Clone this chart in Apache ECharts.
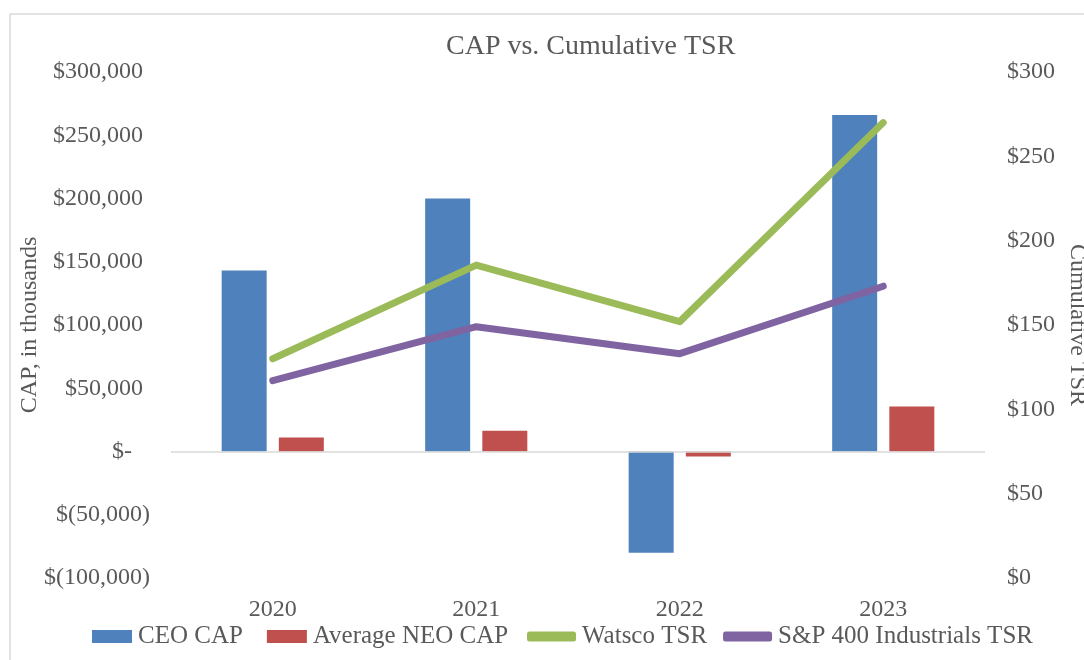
<!DOCTYPE html>
<html>
<head>
<meta charset="utf-8">
<script src="https://cdn.jsdelivr.net/npm/echarts@6/dist/echarts.min.js"></script>
<style>
  html, body { margin: 0; padding: 0; background: #fff; }
  #chart { width: 1084px; height: 660px; }
</style>
</head>
<body>
<div id="chart"></div>
<script>
  // data
  var years = ['2020', '2021', '2022', '2023'];
  var ceoCap = [143000, 200000, -80000, 266000];      // $ thousands
  var neoCap = [11000, 16500, -4000, 35500];          // $ thousands
  var watscoTsr = [130, 185.5, 152, 270];
  var industrialsTsr = [117, 149, 133, 173];

  var txt = '#595959';
  var font = 'Liberation Serif, Times New Roman, serif';

  // accounting style: $1,000 / $(1,000) / $-
  function capLabel(v) {
    if (v === 0) return '{z|$-}';
    var s = Math.abs(v).toLocaleString('en-US');
    return v < 0 ? '{n|$(' + s + ')}' : '{p|$' + s + '}';
  }
  var lbl = { color: txt, fontFamily: font, fontSize: 24 };

  var chart = echarts.init(document.getElementById('chart'));
  var option = {
    backgroundColor: '#fff',
    textStyle: { fontFamily: font, color: txt },
    graphic: [{
      type: 'rect',
      shape: { x: 10, y: 14, width: 1200, height: 800 },
      style: { fill: 'none', stroke: '#d9d9d9', lineWidth: 1.5 },
      silent: true
    }],
    title: {
      text: 'CAP vs. Cumulative TSR',
      left: 441,
      top: 28,
      textStyle: { fontFamily: font, color: txt, fontSize: 28, fontWeight: 'normal' }
    },
    legend: [{
      data: ['CEO CAP', 'Average NEO CAP'],
      left: 87,
      top: 619,
      icon: 'rect',
      itemWidth: 40,
      itemHeight: 13,
      itemGap: 24,
      textStyle: { fontFamily: font, color: txt, fontSize: 25, padding: [0, 0, 0, 1] }
    }, {
      data: ['Watsco TSR', 'S&P 400 Industrials TSR'],
      left: 522,
      top: 619,
      icon: 'roundRect',
      itemWidth: 49,
      itemHeight: 10,
      itemGap: 16,
      textStyle: { fontFamily: font, color: txt, fontSize: 25, padding: [0, 0, 0, 1] }
    }],
    grid: { left: 171, right: 99, top: 72, bottom: 82, outerBoundsMode: 'none' },
    xAxis: {
      type: 'category',
      data: years,
      axisLine: { show: false, onZero: false },
      axisTick: { show: false },
      axisLabel: { color: txt, fontFamily: font, fontSize: 24, margin: 20 }
    },
    yAxis: [{
      type: 'value',
      min: -100000,
      max: 300000,
      interval: 50000,
      name: 'CAP, in thousands',
      nameLocation: 'middle',
      nameGap: 129,
      nameMoveOverlap: false,
      nameTextStyle: { color: txt, fontFamily: font, fontSize: 24 },
      splitLine: { show: false },
      axisLine: { show: false },
      axisTick: { show: false },
      axisLabel: {
        color: txt, fontFamily: font, fontSize: 24, margin: 21, formatter: capLabel,
        rich: {
          p: Object.assign({ padding: [0, 7, 0, 0] }, lbl),
          n: Object.assign({}, lbl),
          z: Object.assign({ padding: [0, 18, 0, 0] }, lbl)
        }
      }
    }, {
      type: 'value',
      min: 0,
      max: 300,
      interval: 50,
      name: 'Cumulative TSR',
      nameLocation: 'middle',
      nameRotate: -90,
      nameGap: 80,
      nameMoveOverlap: false,
      nameTextStyle: { color: txt, fontFamily: font, fontSize: 24 },
      splitLine: { show: false },
      axisLine: { show: false },
      axisTick: { show: false },
      axisLabel: { color: txt, fontFamily: font, fontSize: 24, margin: 22, formatter: function (v) { return '$' + v; } }
    }],
    series: [{
      name: 'CEO CAP',
      type: 'bar',
      data: ceoCap,
      barWidth: 45,
      barGap: '27%',
      itemStyle: { color: '#4F81BD' },
      markLine: {
        silent: true,
        symbol: 'none',
        label: { show: false },
        lineStyle: { color: '#d9d9d9', width: 1.5, type: 'solid' },
        data: [{ yAxis: 0 }]
      }
    }, {
      name: 'Average NEO CAP',
      type: 'bar',
      data: neoCap,
      barWidth: 45,
      itemStyle: { color: '#C0504D' }
    }, {
      name: 'Watsco TSR',
      type: 'line',
      yAxisIndex: 1,
      data: watscoTsr,
      showSymbol: false,
      lineStyle: { color: '#9BBB59', width: 7, cap: 'round', join: 'round' },
      itemStyle: { color: '#9BBB59' }
    }, {
      name: 'S&P 400 Industrials TSR',
      type: 'line',
      yAxisIndex: 1,
      data: industrialsTsr,
      showSymbol: false,
      lineStyle: { color: '#8064A2', width: 7, cap: 'round', join: 'round' },
      itemStyle: { color: '#8064A2' }
    }]
  };
  chart.setOption(option);
  window.addEventListener('resize', function () { chart.resize(); });
</script>
</body>
</html>
